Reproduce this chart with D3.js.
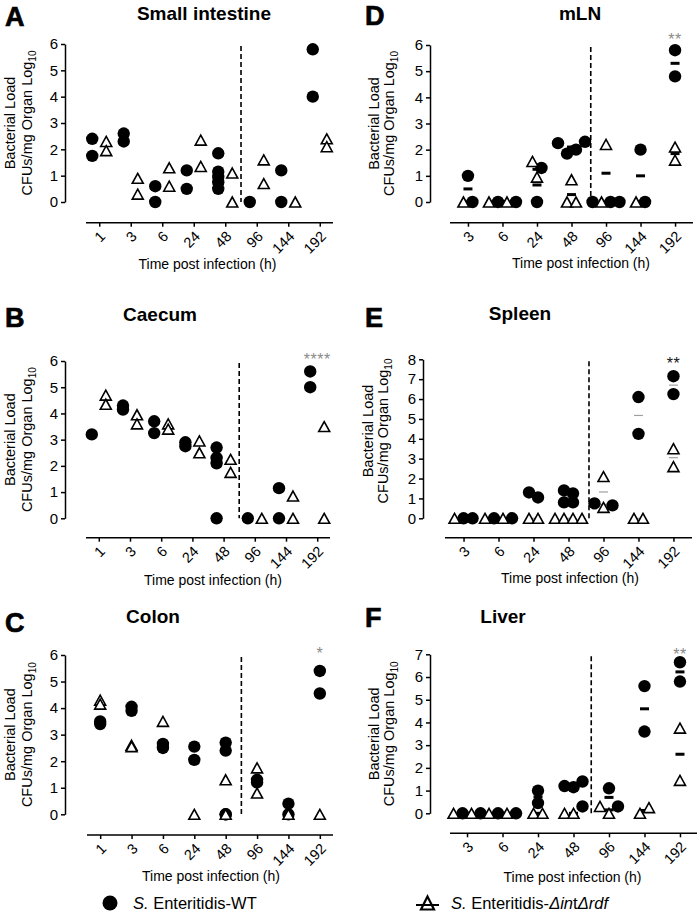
<!DOCTYPE html>
<html><head><meta charset="utf-8">
<script src="https://cdn.jsdelivr.net/npm/d3@7"></script>
<style>
body{margin:0;background:#fff}
svg{display:block;font-family:"Liberation Sans",Arial,Helvetica,sans-serif}
</style>
</head><body>
<svg id="chart" width="700" height="914"></svg>
<script>
// ---------- DATA ----------
const gutCategories = ["1","3","6","24","48","96","144","192"];
const systemicCategories = ["3","6","24","48","96","144","192"];

// Small intestine (A)
const wtSmallIntestine  = [[2.4,1.75],[2.6,2.3],[0.6,0],[1.2,0.5],[1.85,1.15,0.95,0.75,0.5],[0],[1.2,0],[5.8,4.0]];
const mutSmallIntestine = [[2.3,1.95],[0.9,0.3],[1.3,0.6],[2.35,1.35],[1.1,0],[1.6,0.7],[0],[2.4,2.1]];
// Caecum (B)
const wtCaecum  = [[3.2],[4.3,4.15],[3.7,3.25],[2.9,2.75],[2.7,2.3,2.1,0],[0],[1.15,0],[5.6,5.0]];
const mutCaecum = [[4.7,4.35],[3.95,3.6],[3.6,3.4],[2.95,2.5],[2.25,1.75],[0],[0.85,0],[3.5,0]];
// Colon (C)
const wtColon  = [[3.5,3.4],[4.05,3.9],[2.65,2.5],[2.55,2.05],[2.7,2.4,0,0],[1.3,1.2],[0.4,0],[5.4,4.55]];
const mutColon = [[4.3,4.15],[2.6,2.55],[3.5],[0],[1.3,0],[1.75,0.8],[0],[0]];
// mLN (D)
const wtMLN  = [[1.0,0],[0,0],[1.3,0],[2.25,1.85,2.0,2.3],[0,0,0],[2.0,0],[5.8,4.8]];
const mutMLN = [[0],[0,0],[1.55,0.95],[0.85,0,0],[2.2,0],[0],[1.6,2.1]];
// Spleen (E)
const wtSpleen  = [[0,0],[0,0],[1.3,1.05],[1.4,0.8,1.25,0.8],[0.75,0.65],[6.1,4.25],[6.25,7.15]];
const mutSpleen = [[0],[0,0],[0,0],[0,0,0,0],[2.1,0.55],[0,0],[3.5,2.6]];
// Liver (F)
const wtLiver  = [[0,0],[0,0],[1.0,0.45],[1.2,1.15,1.4,0.3],[1.1,0.3],[5.6,3.6],[6.65,5.8]];
const mutLiver = [[0,0],[0,0],[0,0],[0,0],[0.3,0],[0,0.25],[3.75,1.45]];

// significance annotations at 192 h
const starLabels = {B:"****", C:"*", D:"**", E:"**", F:"**"};
const starLevels = {B:6.22, C:6.2, D:6.35, E:7.98, F:7.17};

const legendLabels = ["S. Enteritidis-WT", "S. Enteritidis-ΔintΔrdf"];

// ---------- LAYOUT ----------
const panels = [
  {id:"A", title:"Small intestine", cats:gutCategories, wt:wtSmallIntestine, mut:mutSmallIntestine, ymax:6,
   letterX:5, letterY:26, titleX:204, titleY:19.5, axX:65, yTop:44, yBot:202, xAxisY:222.7, xr:[86,333], pad:0.42,
   offset:7, spread:false, labX:[15,31.7], xtX:207.5, xtY:269},
  {id:"B", title:"Caecum", cats:gutCategories, wt:wtCaecum, mut:mutCaecum, ymax:6,
   letterX:5, letterY:326.7, titleX:160, titleY:320.7, axX:65, yTop:361, yBot:518.3, xAxisY:537.7, xr:[86,330], pad:0.41,
   offset:7, spread:false, labX:[15,31.7], xtX:213, xtY:585, starColor:"#8a8a8a"},
  {id:"C", title:"Colon", cats:gutCategories, wt:wtColon, mut:mutColon, ymax:6,
   letterX:5, letterY:631.7, titleX:153, titleY:623.3, axX:65, yTop:655, yBot:814.3, xAxisY:835, xr:[87,333], pad:0.42,
   offset:0, spread:false, labX:[15,31.7], xtX:211, xtY:880.5, starColor:"#8a8a8a"},
  {id:"D", title:"mLN", cats:systemicCategories, wt:wtMLN, mut:mutMLN, ymax:6,
   letterX:365, letterY:25, titleX:580, titleY:20, axX:430, yTop:45, yBot:202, xAxisY:222.7, xr:[450,693], pad:0.52,
   offset:0, spread:true, labX:[379.3,394], xtX:581, xtY:268, starColor:"#8a8a8a", mean:"black", dashShift:2},
  {id:"E", title:"Spleen", cats:systemicCategories, wt:wtSpleen, mut:mutSpleen, ymax:8,
   letterX:365, letterY:326.7, titleX:520, titleY:320, axX:423, yTop:359.3, yBot:518.3, xAxisY:537.7, xr:[445,692], pad:0.53,
   offset:0, spread:true, labX:[372.5,387.5], labCY:431, xtX:570, xtY:583, starColor:"#111", mean:"gray", dashShift:3},
  {id:"F", title:"Liver", cats:systemicCategories, wt:wtLiver, mut:mutLiver, ymax:7,
   letterX:365, letterY:626.7, titleX:503, titleY:623.3, axX:430, yTop:654.3, yBot:813.3, xAxisY:833.3, xr:[450,697], pad:0.48,
   offset:0, spread:true, labX:[379.3,394], xtX:572.5, xtY:881.7, starColor:"#8a8a8a", mean:"black", dashShift:0}
];

const svg = d3.select("#chart");
const R = 6.2;            // circle radius
const TW = 11, TH = 10;   // triangle path size
const triPath = (w,h) => `M0,${-h/2}L${w/2},${h/2}L${-w/2},${h/2}Z`;

function layoutPoints(p, x, y) {
  const pts = [];
  p.cats.forEach((c, i) => {
    const cx = x(c);
    const wt = p.wt[i].map(v => ({g:"wt", v}));
    const mut = p.mut[i].map(v => ({g:"mut", v}));
    if (!p.spread) {
      wt.forEach(d => { d.x = cx - p.offset; d.y = y(d.v); pts.push(d); });
      mut.forEach(d => { d.x = cx + p.offset; d.y = y(d.v); pts.push(d); });
      return;
    }
    const all = [];
    const n = Math.max(wt.length, mut.length);
    for (let k = 0; k < n; k++) { if (mut[k]) all.push(mut[k]); if (wt[k]) all.push(wt[k]); }
    all.forEach(d => d.y = y(d.v));
    const sorted = all.slice().sort((a,b) => a.y - b.y);
    const clusters = [];
    sorted.forEach(d => {
      const last = clusters[clusters.length - 1];
      if (last && d.y - last[last.length - 1].y < 8) last.push(d); else clusters.push([d]);
    });
    clusters.forEach(cl => {
      cl.sort((a,b) => all.indexOf(a) - all.indexOf(b));
      cl.forEach((d,k) => { d.x = cx + (k - (cl.length - 1) / 2) * 9; });
    });
    pts.push(...all);
  });
  return pts;
}

panels.forEach(p => {
  const g = svg.append("g");
  const x = d3.scalePoint().domain(p.cats).range(p.xr).padding(p.pad);
  const y = d3.scaleLinear().domain([0, p.ymax]).range([p.yBot, p.yTop]);

  // panel letter & title
  g.append("text").attr("x", p.letterX).attr("y", p.letterY)
    .attr("font-size", 27).attr("font-weight", "bold").attr("stroke", "#000").attr("stroke-width", 0.7)
    .text(p.id);
  g.append("text").attr("x", p.titleX).attr("y", p.titleY).attr("text-anchor", "middle")
    .attr("font-size", 19).attr("font-weight", "bold").text(p.title);

  // y axis
  const ya = g.append("g").attr("transform", `translate(${p.axX},0)`)
    .call(d3.axisLeft(y).ticks(p.ymax).tickSize(4).tickPadding(3).tickSizeOuter(0));
  ya.attr("font-family", null);
  ya.selectAll("path,line").attr("stroke", "#000").attr("stroke-width", 1.5);
  ya.selectAll("text").attr("font-size", 15).attr("fill", "#000");

  // x axis
  const xa = g.append("g").attr("transform", `translate(0,${p.xAxisY})`)
    .call(d3.axisBottom(x).tickSize(4).tickSizeOuter(0));
  xa.attr("font-family", null);
  xa.select(".domain").attr("d", `M${p.xr[0]},0H${p.xr[1]}`);
  xa.selectAll("path,line").attr("stroke", "#000").attr("stroke-width", 1.5);
  xa.selectAll("text").attr("font-size", 14.5).attr("fill", "#000")
    .attr("text-anchor", "end").attr("x", 0).attr("y", 0).attr("dy", "0.35em")
    .attr("transform", "translate(3,11) rotate(-45)");

  // y label
  const cy = p.labCY || (p.yTop + p.yBot) / 2;
  g.append("text").attr("transform", `translate(${p.labX[0]},${cy}) rotate(-90)`)
    .attr("text-anchor", "middle").attr("font-size", 14.5).text("Bacterial Load");
  const t2 = g.append("text").attr("transform", `translate(${p.labX[1]},${cy}) rotate(-90)`)
    .attr("text-anchor", "middle").attr("font-size", 14.5);
  t2.append("tspan").text("CFUs/mg Organ Log");
  t2.append("tspan").attr("font-size", 10).attr("dy", 4).text("10");

  // x title
  g.append("text").attr("x", p.xtX).attr("y", p.xtY).attr("text-anchor", "middle")
    .attr("font-size", 14).text("Time post infection (h)");

  // dashed separator between 48 and 96
  const dx = (x("48") + x("96")) / 2 + (p.dashShift || 0);
  g.append("line").attr("x1", dx).attr("x2", dx).attr("y1", y(p.ymax) + 2).attr("y2", y(0))
    .attr("stroke", "#000").attr("stroke-width", 1.6).attr("stroke-dasharray", "5,3");

  // mean lines
  if (p.mean) {
    const means = [];
    p.cats.forEach((c, i) => {
      [p.wt[i], p.mut[i]].forEach(vals => { if (vals.length) means.push({c, m: d3.mean(vals)}); });
    });
    g.selectAll(".mean").data(means).join("line")
      .attr("x1", d => x(d.c) - 4.5).attr("x2", d => x(d.c) + 4.5)
      .attr("y1", d => y(d.m)).attr("y2", d => y(d.m))
      .attr("stroke", p.mean === "gray" ? "#a0a0a0" : "#000")
      .attr("stroke-width", p.mean === "gray" ? 1.2 : 3);
  }

  // points
  const pts = layoutPoints(p, x, y);
  g.selectAll(".wt").data(pts.filter(d => d.g === "wt")).join("circle")
    .attr("cx", d => d.x).attr("cy", d => d.y).attr("r", R).attr("fill", "#000");
  g.selectAll(".mut").data(pts.filter(d => d.g === "mut")).join("path")
    .attr("d", triPath(TW, TH)).attr("transform", d => `translate(${d.x},${d.y})`)
    .attr("fill", "#fff").attr("stroke", "#000").attr("stroke-width", 1.6).attr("stroke-linejoin", "miter");

  // significance stars
  if (starLabels[p.id]) {
    g.append("text").attr("x", x("192")).attr("y", y(starLevels[p.id]))
      .attr("dy", "0.6em").attr("text-anchor", "middle")
      .attr("font-size", 16).attr("letter-spacing", 0.5).attr("fill", p.starColor)
      .text(starLabels[p.id]);
  }
});

// ---------- LEGEND ----------
const lg = svg.append("g");
lg.append("circle").attr("cx", 110).attr("cy", 903).attr("r", 7.5).attr("fill", "#000");
const l1 = lg.append("text").attr("x", 133).attr("y", 909).attr("font-size", 16.5);
l1.append("tspan").attr("font-style", "italic").text(legendLabels[0].slice(0, 2));
l1.append("tspan").text(legendLabels[0].slice(2));

lg.append("line").attr("x1", 416).attr("x2", 439).attr("y1", 905).attr("y2", 905)
  .attr("stroke", "#000").attr("stroke-width", 2);
lg.append("path").attr("d", triPath(13, 13)).attr("transform", "translate(427.5,903)")
  .attr("fill", "none").attr("stroke", "#000").attr("stroke-width", 2.2);
const l2 = lg.append("text").attr("x", 451).attr("y", 909).attr("font-size", 16.5);
const parts2 = [[legendLabels[1].slice(0,2), true], [legendLabels[1].slice(2,15), false],
                [legendLabels[1].slice(15,18), true], [legendLabels[1].slice(18,19), false],
                [legendLabels[1].slice(19), true]];
parts2.forEach(([t, it]) => l2.append("tspan").attr("font-style", it ? "italic" : "normal").text(t));
</script>
</body></html>
